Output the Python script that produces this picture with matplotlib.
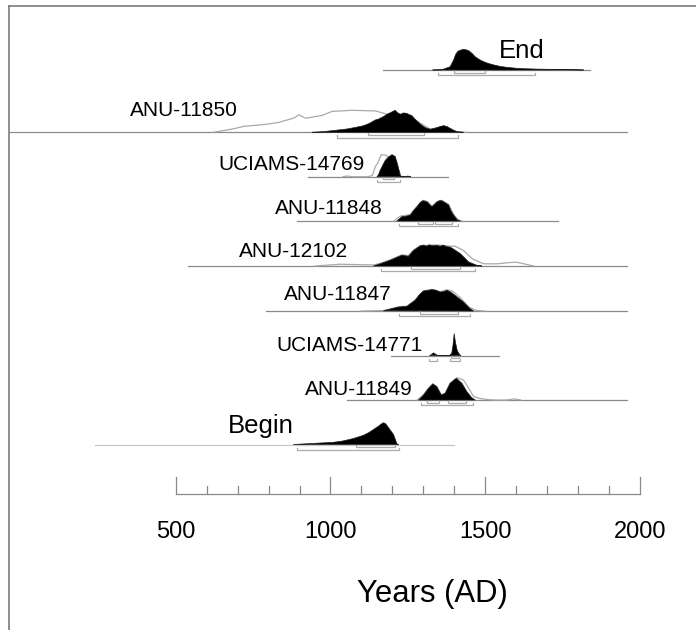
import matplotlib
matplotlib.use("Agg")
import matplotlib.pyplot as plt
from matplotlib.lines import Line2D

plt.rcParams['font.family'] = ['Liberation Sans', 'DejaVu Sans']

# ---- data -------------------------------------------------------------
names = ["End", "ANU-11850", "UCIAMS-14769", "ANU-11848", "ANU-12102",
         "ANU-11847", "UCIAMS-14771", "ANU-11849", "Begin"]

# calendar span drawn for each item (years AD)
span_start = [1171, -35, 926, 891, 540, 791, 1196, 1053, 239]
span_end = [1838, 1960, 1379, 1735, 1959, 1959, 1544, 1959, 1400]

# modelled (posterior) distributions: years and relative probability
post_years = [
    [1330, 1360, 1387, 1398, 1405, 1412, 1420, 1430, 1438, 1447, 1458, 1468,
     1482, 1495, 1510, 1528, 1550, 1571, 1600, 1625, 1670, 1711, 1760, 1819],
    [940, 977, 1010, 1053, 1080, 1107, 1125, 1145, 1155, 1161, 1172, 1183,
     1195, 1202, 1209, 1216, 1226, 1236, 1247, 1255, 1263, 1272, 1280, 1290,
     1301, 1312, 1323, 1334, 1344, 1355, 1366, 1377, 1387, 1398, 1409, 1430],
    [1150, 1155, 1161, 1170, 1177, 1188, 1199, 1209, 1215, 1220, 1226, 1232,
     1240, 1250, 1260],
    [1215, 1231, 1245, 1258, 1270, 1280, 1290, 1299, 1307, 1314, 1321, 1328,
     1336, 1344, 1352, 1360, 1370, 1382, 1390, 1398, 1410, 1420],
    [1139, 1161, 1193, 1231, 1252, 1269, 1290, 1300, 1310, 1320, 1330, 1344,
     1355, 1365, 1375, 1387, 1400, 1420, 1447, 1474, 1490],
    [1171, 1220, 1247, 1274, 1288, 1301, 1312, 1328, 1340, 1355, 1365, 1377,
     1390, 1403, 1430, 1452, 1463],
    [1320, 1326, 1333, 1340, 1347, 1385, 1392, 1396, 1400, 1404, 1410, 1417,
     1422],
    [1285, 1301, 1317, 1331, 1344, 1358, 1371, 1387, 1407, 1425, 1441, 1457,
     1468],
    [879, 1010, 1040, 1074, 1107, 1125, 1139, 1155, 1163, 1171, 1178, 1182,
     1188, 1204, 1215, 1220],
]
post_prob = [
    [0, 1, 15, 45, 72, 85, 90, 94, 92, 88, 75, 60, 47, 38, 30, 23, 16, 12, 8,
     6, 4, 3, 2, 0],
    [0, 3, 8, 15, 22, 30, 40, 56, 60, 64, 72, 82, 90, 95, 100, 90, 82, 88, 86,
     80, 76, 62, 51, 38, 26, 18, 14, 17, 21, 26, 30, 26, 18, 9, 3, 0],
    [0, 8, 30, 55, 74, 90, 100, 92, 65, 38, 3, 0, 0, 3, 0],
    [0, 20, 22, 27, 50, 65, 84, 92, 90, 85, 74, 65, 75, 86, 92, 92, 84, 73,
     45, 27, 5, 0],
    [0, 10, 26, 49, 44, 71, 91, 95, 90, 96, 92, 94, 90, 95, 88, 86, 75, 56,
     18, 3, 0],
    [1, 18, 21, 49, 75, 91, 93, 97, 95, 86, 88, 94, 85, 71, 41, 10, 0],
    [0, 4, 12, 6, 0, 0, 10, 45, 100, 60, 22, 5, 0],
    [0, 23, 53, 73, 60, 23, 30, 76, 99, 76, 38, 10, 0],
    [0, 10, 16, 27, 42, 55, 68, 83, 92, 99, 95, 88, 76, 45, 3, 0],
]

# unmodelled (prior) distributions; None where not drawn
prior_years = [
    None,
    [622, 680, 720, 790, 833, 880, 898, 920, 973, 1005, 1070, 1146, 1183,
     1226, 1280, 1323, 1366, 1409, 1440],
    [1040, 1055, 1070, 1120, 1135, 1145, 1152, 1164, 1178, 1188, 1199, 1209,
     1220, 1228, 1240],
    [1205, 1225, 1258, 1280, 1299, 1314, 1328, 1344, 1360, 1382, 1398, 1412,
     1425],
    [950, 1031, 1100, 1139, 1161, 1193, 1231, 1252, 1269, 1290, 1344, 1387,
     1403, 1430, 1458, 1495, 1540, 1598, 1619, 1656],
    [1100, 1171, 1220, 1247, 1274, 1301, 1328, 1355, 1377, 1395, 1420, 1447,
     1470, 1500],
    None,
    [1280, 1301, 1317, 1331, 1344, 1358, 1371, 1387, 1409, 1430, 1447, 1463,
     1490, 1510, 1530, 1570, 1593, 1615],
    None,
]
prior_prob = [
    None,
    [0, 14, 27, 36, 45, 64, 79, 64, 77, 95, 100, 97, 82, 80, 50, 14, 28, 3,
     0],
    [0, 3, 0, 0, 5, 46, 60, 100, 98, 88, 98, 90, 35, 2, 0],
    [0, 22, 29, 67, 94, 88, 67, 88, 94, 75, 30, 6, 0],
    [0, 8, 6, 5, 12, 28, 51, 47, 73, 93, 96, 90, 90, 71, 33, 10, 10, 18, 12,
     0],
    [0, 2, 19, 22, 50, 92, 98, 88, 97, 90, 60, 18, 3, 0],
    None,
    [0, 24, 54, 74, 61, 24, 31, 77, 101, 91, 53, 15, 5, 2, 0, 0, 5, 0],
    None,
]

# highest posterior density ranges (68.2 % and 95.4 %)
hpd68 = [
    [(1400, 1498)], [(1120, 1301)], [(1171, 1207)],
    [(1282, 1331), (1339, 1393)], [(1260, 1420)], [(1290, 1411)],
    [(1391, 1414)], [(1312, 1350), (1380, 1439)], [(1081, 1209)],
]
hpd95 = [
    [(1349, 1660)], [(1021, 1411)], [(1152, 1226)], [(1220, 1411)],
    [(1163, 1468)], [(1220, 1450)], [(1320, 1346), (1385, 1420)],
    [(1293, 1460)], [(891, 1221)],
]

tick_years = [500, 1000, 1500, 2000]
minor_years = list(range(500, 2001, 100))
axis_title = "Years (AD)"

# ---- layout -----------------------------------------------------------
W, H = 696, 630
row_base = [70, 132.3, 176.7, 221, 266, 311, 355.5, 400, 444.5]
row_height = 22.0
label_x = [1545, 701, 1112, 1170, 1057, 1199, 1299, 1267, 669]
label_y = [58, 116, 170, 214, 256.7, 300, 350.7, 395, 433]
label_ha = ["left", "right", "right", "right", "right", "right", "right",
            "right", "left"]
label_size = [18.5, 15, 15, 15, 15, 15, 15, 15, 18.5]

px_per_year = 464.0 / 1500.0
x0_year = 500 - 175.8 / px_per_year
x1_year = 500 + (W - 175.8) / px_per_year

line_col = "#8a8a8a"
prior_col = "#a9a9a9"
bracket_col = "#ababab"

fig = plt.figure(figsize=(W / 100, H / 100), dpi=100)
ax = fig.add_axes([0, 0, 1, 1])
ax.set_xlim(x0_year, x1_year)
ax.set_ylim(H, 0)
ax.axis("off")


def bracket(a, b, y, up=2.2):
    ax.plot([a, a, b, b], [y - up, y, y, y - up], color=bracket_col,
            lw=0.9, solid_joinstyle="miter", zorder=2)


for i, name in enumerate(names):
    base = row_base[i]
    line_c = "#c8c8c8" if name == "Begin" else line_col
    ax.plot([span_start[i], span_end[i]], [base, base], color=line_c,
            lw=0.9, zorder=1)
    if prior_years[i] is not None:
        py = [base - p / 100 * row_height for p in prior_prob[i]]
        ax.plot(prior_years[i], py, color=prior_col, lw=0.9, zorder=2)
    yy = [base - p / 100 * row_height for p in post_prob[i]]
    ax.fill(post_years[i], yy, facecolor="black", edgecolor="#202020",
            lw=0.5, zorder=3)
    for a, b in hpd68[i]:
        bracket(a, b, base + 2.6)
    for a, b in hpd95[i]:
        bracket(a, b, base + 5.3)
    ax.text(label_x[i], label_y[i], name, ha=label_ha[i], va="baseline",
            fontsize=label_size[i], color="black")

# time axis
axis_y = 494.3
ax.plot([minor_years[0], minor_years[-1]], [axis_y, axis_y],
        color="#8a8a8a", lw=0.9)
for yr in minor_years:
    top = 476.7 if yr in tick_years else 485.7
    ax.plot([yr, yr], [axis_y, top], color="#8a8a8a", lw=0.9)
for yr in tick_years:
    ax.text(yr, 537.5, str(yr), ha="center", va="baseline", fontsize=17)
ax.text(1328, 602, axis_title, ha="center", va="baseline", fontsize=22.4)

# frame lines on the left and top
fig.add_artist(Line2D([8.5 / W, 8.5 / W], [0, 1 - 6 / H],
                      transform=fig.transFigure, color="#707070", lw=1.1))
fig.add_artist(Line2D([8.5 / W, 1], [1 - 6 / H, 1 - 6 / H],
                      transform=fig.transFigure, color="#707070", lw=1.1))

fig.savefig("out.png", dpi=100)
